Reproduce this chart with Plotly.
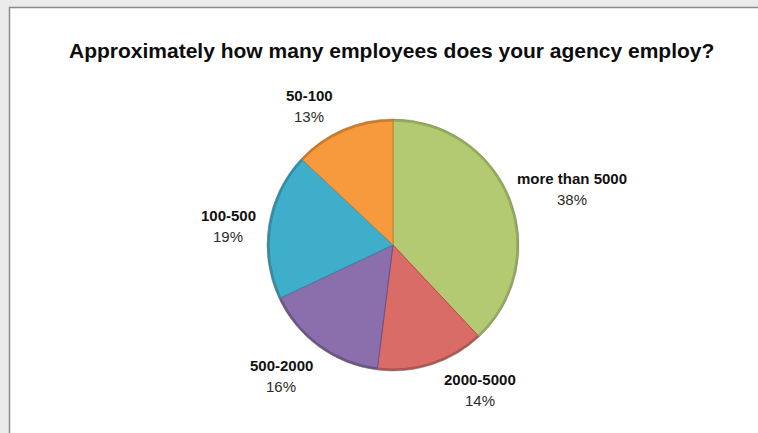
import plotly.graph_objects as go

# Survey responses: agency size share (%)
categories = ["more than 5000", "2000-5000", "500-2000", "100-500", "50-100"]
shares = [38, 14, 16, 19, 13]

slice_colors = ["#b3ca72", "#d96c67", "#8a6fac", "#3eaecb", "#f79a3e"]
edge_colors = ["#93ab58", "#b2524d", "#6a528a", "#2f8ca6", "#cf7a28"]

W, H = 758, 433

# pie placement in pixels
cx, cy, r = 393, 245, 126

# label anchors (pixel centres of the category line)
label_px = [(572, 178), (480, 379), (281, 365), (228, 215), (309, 95)]
pct_gap = 21


def px(x):
    return x / W


def py(y):
    return 1 - y / H


fig = go.Figure()

# darker rim underneath gives the slices a bevelled edge
fig.add_trace(go.Pie(
    labels=categories, values=shares, sort=False, direction="clockwise",
    rotation=0, textinfo="none", hoverinfo="skip", showlegend=False,
    marker=dict(colors=edge_colors, line=dict(color="#7a7a7a", width=0.5)),
    domain=dict(x=[px(cx - r), px(cx + r)], y=[py(cy + r), py(cy - r)]),
))
ri = r - 2
fig.add_trace(go.Pie(
    labels=categories, values=shares, sort=False, direction="clockwise",
    rotation=0, textinfo="none", showlegend=False,
    marker=dict(colors=slice_colors, line=dict(color=edge_colors, width=1)),
    domain=dict(x=[px(cx - ri), px(cx + ri)], y=[py(cy + ri), py(cy - ri)]),
))

annotations = [dict(
    text="<b>Approximately how many employees does your agency employ?</b>",
    x=px(391), y=py(50), xref="paper", yref="paper", showarrow=False,
    xanchor="center", yanchor="middle",
    font=dict(family="Liberation Sans", size=21, color="#0d0d0d"),
)]
for name, val, (lx, ly) in zip(categories, shares, label_px):
    annotations.append(dict(
        text=f"<b>{name}</b>", x=px(lx), y=py(ly), xref="paper", yref="paper",
        showarrow=False, xanchor="center", yanchor="middle",
        font=dict(family="Liberation Sans", size=15, color="#111111"),
    ))
    annotations.append(dict(
        text=f"{val:.0f}%", x=px(lx), y=py(ly + pct_gap), xref="paper", yref="paper",
        showarrow=False, xanchor="center", yanchor="middle",
        font=dict(family="Liberation Sans", size=15, color="#2b2b2b"),
    ))

shapes = [dict(
    type="rect", xref="paper", yref="paper",
    x0=px(9.5), x1=px(W + 5), y0=py(H + 5), y1=py(7.5),
    fillcolor="white", line=dict(color="#8a8a8a", width=1.5), layer="below",
)]

fig.update_layout(
    width=W, height=H, margin=dict(l=0, r=0, t=0, b=0),
    paper_bgcolor="#ebebeb", plot_bgcolor="white",
    annotations=annotations, shapes=shapes,
)

fig.write_html("out.html", config={"displayModeBar": False})
